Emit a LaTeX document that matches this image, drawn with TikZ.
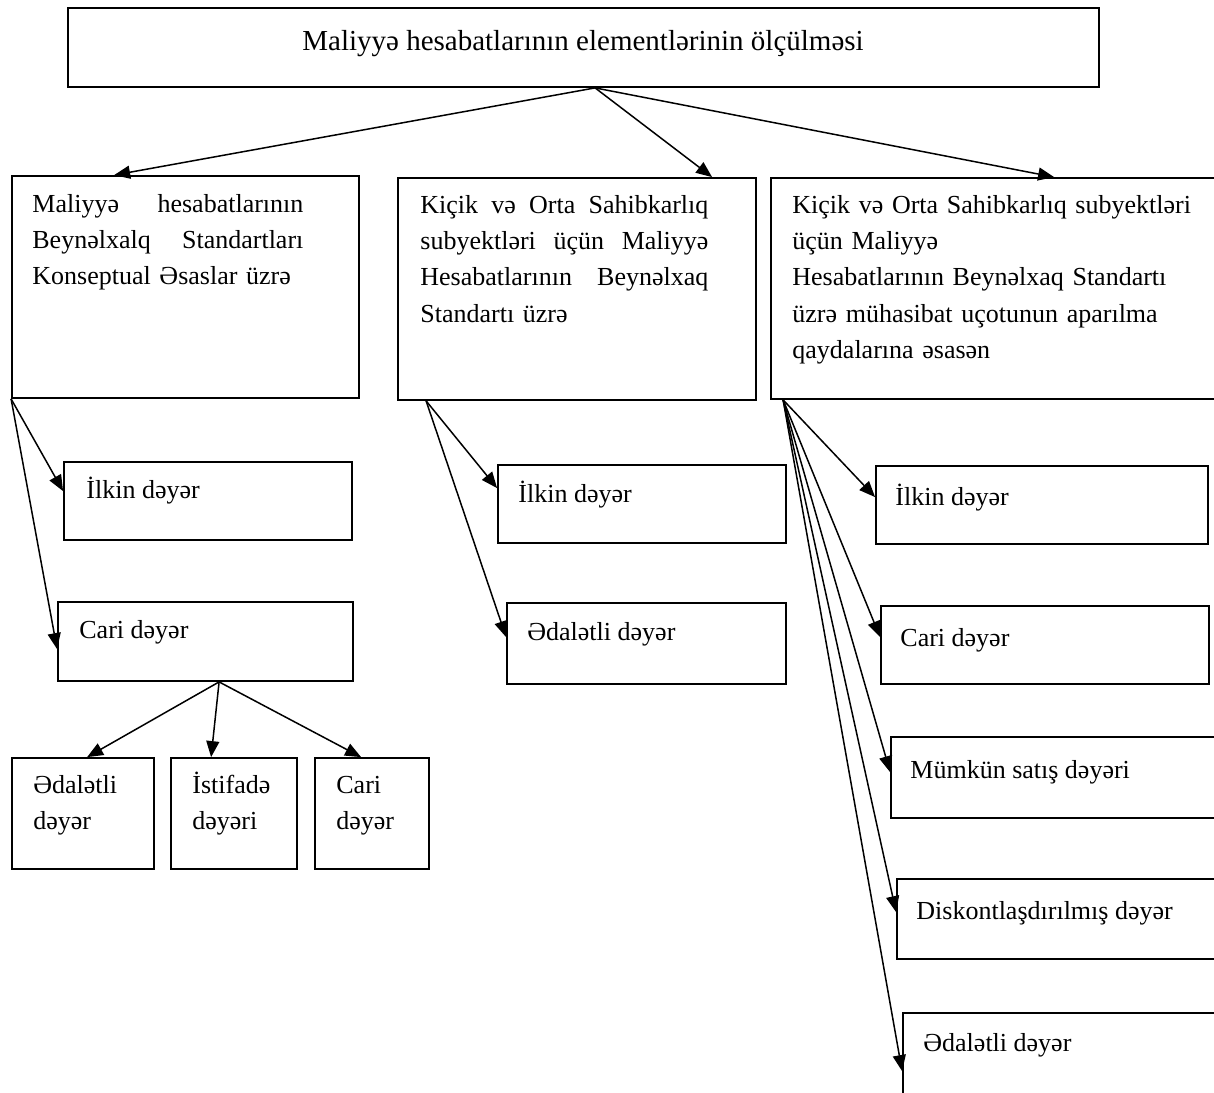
\documentclass[tikz,border=0pt]{standalone}
\usepackage{fontspec}
\setmainfont{Liberation Serif}
\usetikzlibrary{fit,calc,arrows.meta}
\tikzset{
  box/.style={draw, line width=0.9pt, inner sep=0pt, rectangle},
  txt/.style={inner sep=0pt, anchor=base west, align=left,
    font=\fontsize{13pt}{18.2pt}\selectfont},
  ttl/.style={inner sep=0pt, anchor=base, font=\fontsize{14.5pt}{18pt}\selectfont},
  arr/.style={line width=0.75pt, -{Triangle[length=8pt,width=6.5pt]}}
}
\begin{document}
\begin{tikzpicture}[x=0.5pt, y=-0.5pt]
\useasboundingbox (0,0) rectangle (1214,1092);
% boxes
\node[box, fit={(68,8) (1099,87)}] (T) {};
\node[box, fit={(12,176) (359,398)}] (A) {};
\node[box, fit={(398,178) (756,400)}] (B) {};
\node[box, fit={(771,178) (1222,399)}] (C) {};
\node[box, fit={(64,462) (352,540)}] (A1) {};
\node[box, fit={(58,602) (353,681)}] (A2) {};
\node[box, fit={(12,758) (154,869)}] (A21) {};
\node[box, fit={(171,758) (297,869)}] (A22) {};
\node[box, fit={(315,758) (429,869)}] (A23) {};
\node[box, fit={(498,465) (786,543)}] (B1) {};
\node[box, fit={(507,603) (786,684)}] (B2) {};
\node[box, fit={(876,466) (1208,544)}] (C1) {};
\node[box, fit={(881,606) (1209,684)}] (C2) {};
\node[box, fit={(891,737) (1222,818)}] (C3) {};
\node[box, fit={(897,879) (1222,959)}] (C4) {};
\node[box, fit={(903,1013) (1222,1100)}] (C5) {};
% texts
\node[ttl] (Tt) at (583,50) {Maliyyə hesabatlarının elementlərinin ölçülməsi};
\node[txt, text width=135.5pt] (At) at (32,212) {Maliyyə\hfill hesabatlarının\\Beynəlxalq\hfill Standartları\\Konseptual Əsaslar üzrə};
\node[txt, text width=144pt] (Bt) at (420,213) {Kiçik\hfill və\hfill Orta\hfill Sahibkarlıq\\subyektləri\hfill üçün\hfill Maliyyə\\Hesabatlarının\hfill Beynəlxaq\\Standartı üzrə};
\node[txt, text width=210pt] (Ct) at (792,213) {Kiçik və Orta Sahibkarlıq subyektləri\\üçün Maliyyə\\Hesabatlarının Beynəlxaq Standartı\\üzrə mühasibat uçotunun aparılma\\qaydalarına əsasən};
\node[txt] (A1t) at (86,498) {İlkin dəyər};
\node[txt] (A2t) at (79,638) {Cari dəyər};
\node[txt, text width=55pt] (A21t) at (33,793) {Ədalətli\\dəyər};
\node[txt, text width=50pt] (A22t) at (192,793) {İstifadə\\dəyəri};
\node[txt, text width=40pt] (A23t) at (336,793) {Cari\\dəyər};
\node[txt] (B1t) at (518,502) {İlkin dəyər};
\node[txt] (B2t) at (527,640) {Ədalətli dəyər};
\node[txt] (C1t) at (895,505) {İlkin dəyər};
\node[txt] (C2t) at (900,646) {Cari dəyər};
\node[txt] (C3t) at (910,778) {Mümkün satış dəyəri};
\node[txt] (C4t) at (916,919) {Diskontlaşdırılmış dəyər};
\node[txt] (C5t) at (923,1051) {Ədalətli dəyər};
% connectors
\coordinate (To) at ($(T.south west)+(528,0)$);
\draw[arr] (To) -- ($(A.north west)+(103,0)$);
\draw[arr] (To) -- ($(B.north west)+(315,0)$);
\draw[arr] (To) -- ($(C.north west)+(284,0)$);
\draw[arr] (A.south west) -- ($(A1.north west)+(0,30)$);
\draw[arr] (A.south west) -- ($(A2.north west)+(0,48)$);
\coordinate (A2o) at ($(A2.south west)+(162,0)$);
\draw[arr] (A2o) -- ($(A21.north west)+(76,0)$);
\draw[arr] (A2o) -- ($(A22.north west)+(41,0)$);
\draw[arr] (A2o) -- ($(A23.north west)+(47,0)$);
\coordinate (Bo) at ($(B.south west)+(29,0)$);
\draw[arr] (Bo) -- ($(B1.north west)+(0,24)$);
\draw[arr] (Bo) -- ($(B2.north west)+(0,35)$);
\coordinate (Co) at ($(C.south west)+(13,0)$);
\draw[arr] (Co) -- ($(C1.north west)+(0,32)$);
\draw[arr] (Co) -- ($(C2.north west)+(0,32)$);
\draw[arr] (Co) -- ($(C3.north west)+(0,36)$);
\draw[arr] (Co) -- ($(C4.north west)+(0,34)$);
\draw[arr] (Co) -- ($(C5.north west)+(0,59)$);
\end{tikzpicture}
\end{document}
